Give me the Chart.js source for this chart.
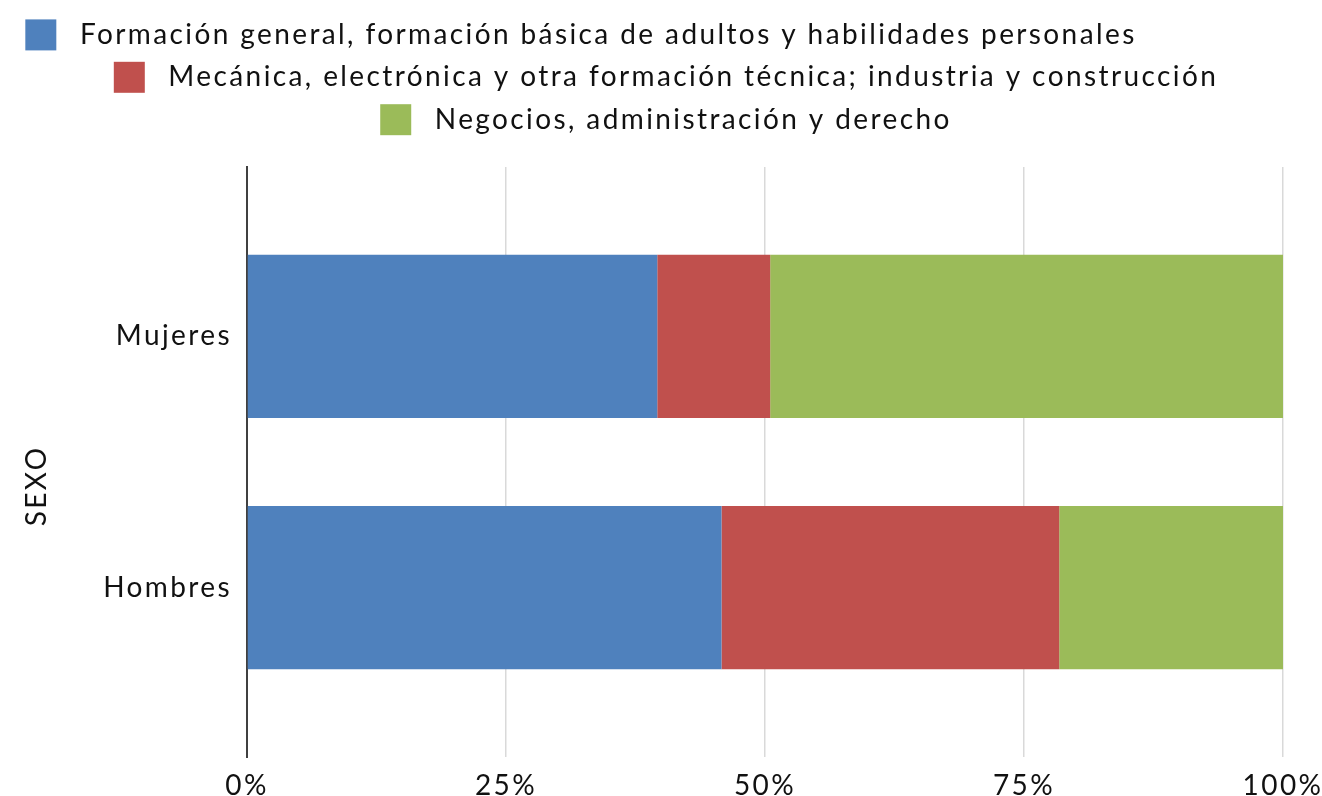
<!DOCTYPE html>
<html>
<head>
<meta charset="utf-8">
<script src="https://cdn.jsdelivr.net/npm/chart.js@4"></script>
<style>
  html, body { margin: 0; padding: 0; background: #fff; }
  #wrap { width: 1322px; height: 796px; }
</style>
</head>
<body>
<div id="wrap"><canvas id="barChart"></canvas></div>
<script>
const categories = ["Mujeres", "Hombres"]
const seriesNames = [
  "Formación general, formación básica de adultos y habilidades personales",
  "Mecánica, electrónica y otra formación técnica; industria y construcción",
  "Negocios, administración y derecho",
]
const formacionGeneral = [39.6, 45.8]
const mecanica = [10.9, 32.6]
const negocios = [49.5, 21.6]
const xTickValues = [0, 25, 50, 75, 100]
const colors = ["#4F81BD", "#C0504D", "#9BBB59"]

const FONT = "Lato"
const SPACING = "2.4px"
const TEXT = "#111"

// letter spacing on the canvas context (reset when the canvas resizes),
// and a fixed legend height so the plot starts where the original does
const spacingPlugin = {
  id: "spacing",
  beforeUpdate(chart) {
    chart.ctx.letterSpacing = SPACING
    const legend = chart.legend
    if (legend && !legend._patched) {
      const fit = legend.fit
      legend.fit = function () {
        fit.call(this)
        this.height = 159
        // first row sits further left in the original
        if (this.lineWidths && this.lineWidths.length) this.lineWidths[0] += 170
      }
      legend._patched = true
    }
  },
  beforeDraw(chart) { chart.ctx.letterSpacing = SPACING },
}

const toPoints = (values) => values.map((v, i) => ({ x: v, y: i }))

const data = {
  datasets: [formacionGeneral, mecanica, negocios].map((vals, i) => ({
    label: seriesNames[i],
    data: toPoints(vals),
    backgroundColor: colors[i],
    borderWidth: 0,
    categoryPercentage: 1,
    barPercentage: 0.65,
  })),
}

const config = {
  type: "bar",
  data: data,
  plugins: [spacingPlugin],
  options: {
    indexAxis: "y",
    responsive: true,
    maintainAspectRatio: false,
    animation: false,
    layout: { padding: { left: 10, right: 0, top: 8, bottom: 0 } },
    plugins: {
      tooltip: { enabled: false },
      legend: {
        position: "top",
        labels: {
          color: TEXT,
          font: { family: FONT, size: 28 },
          boxWidth: 31,
          boxHeight: 31,
          padding: 11.4,
          generateLabels(chart) {
            const items = Chart.defaults.plugins.legend.labels.generateLabels(chart)
            return items.map((it) => ({ ...it, text: " " + it.text }))
          },
        },
      },
    },
    scales: {
      x: {
        type: "linear",
        stacked: true,
        min: 0,
        max: 100,
        afterBuildTicks(scale) {
          scale.ticks = xTickValues.map((v) => ({ value: v }))
        },
        afterFit(scale) {
          scale.height = 39
          scale.paddingRight = 39
        },
        ticks: {
          color: TEXT,
          font: { family: FONT, size: 28 },
          padding: 12,
          callback: (v) => v + "%",
        },
        grid: { color: "#d9d9d9", lineWidth: 1.5, drawTicks: false },
        border: { display: false },
      },
      y: {
        type: "linear",
        stacked: true,
        reverse: true,
        offset: false,
        min: -0.675,
        max: categories.length - 1 + 0.675,
        afterBuildTicks(scale) {
          scale.ticks = categories.map((c, i) => ({ value: i }))
        },
        afterFit(scale) { scale.width = 237 },
        ticks: {
          color: TEXT,
          font: { family: FONT, size: 28 },
          padding: 15,
          callback: (v) => categories[v],
        },
        grid: { display: false, drawTicks: false },
        border: { display: true, color: "#404040", width: 2 },
        title: {
          display: true,
          text: "SEXO     ",
          color: TEXT,
          font: { family: FONT, size: 28 },
          padding: { top: 10, bottom: 0 },
        },
      },
    },
  },
}

const barChart = new Chart(document.getElementById("barChart"), config)
</script>
</body>
</html>
